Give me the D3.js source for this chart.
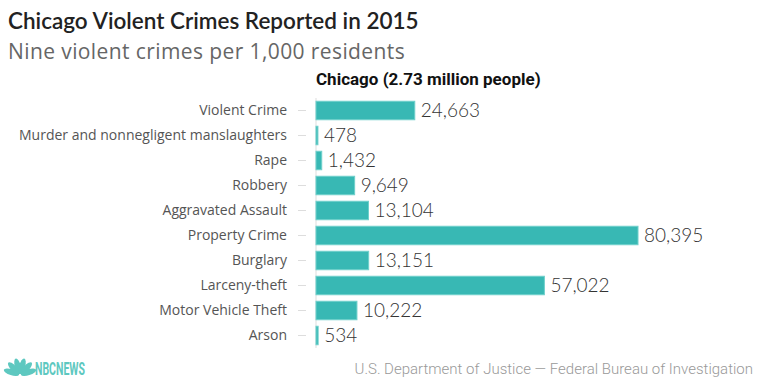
<!DOCTYPE html>
<html>
<head>
<meta charset="utf-8">
<script src="https://cdn.jsdelivr.net/npm/d3@7"></script>
<style>
  body { margin: 0; background: #fff; }
  svg { display: block; font-family: "Open Sans", Lato, sans-serif; }
</style>
</head>
<body>
<svg id="chart"></svg>
<script>
// Chart data
const categories = [
  "Violent Crime",
  "Murder and nonnegligent manslaughters",
  "Rape",
  "Robbery",
  "Aggravated Assault",
  "Property Crime",
  "Burglary",
  "Larceny-theft",
  "Motor Vehicle Theft",
  "Arson"
];
const values = [24663, 478, 1432, 9649, 13104, 80395, 13151, 57022, 10222, 534];

const width = 760;
const height = 388;
const margin = { top: 98, left: 316, bottom: 40 };

const svg = d3.select("#chart")
  .attr("width", width)
  .attr("height", height);

// Scales
const x = d3.scaleLinear()
  .domain([0, d3.max(values)])
  .range([margin.left, 638]);

const y = d3.scaleBand()
  .domain(categories)
  .range([margin.top, 348])
  .paddingInner(0.26)
  .paddingOuter(0.13);

// Titles
svg.append("text")
  .attr("x", 8).attr("y", 29)
  .attr("font-family", "Lato, sans-serif")
  .attr("font-size", 22.5).attr("font-weight", 600)
  .attr("fill", "#222")
  .text("Chicago Violent Crimes Reported in 2015");

svg.append("text")
  .attr("x", 8).attr("y", 59)
  .attr("font-size", 21).attr("font-weight", 400)
  .attr("letter-spacing", 0.4)
  .attr("fill", "#666")
  .text("Nine violent crimes per 1,000 residents");

svg.append("text")
  .attr("x", margin.left).attr("y", 85)
  .attr("font-family", "Roboto, sans-serif")
  .attr("font-size", 17).attr("font-weight", 700)
  .attr("fill", "#111")
  .text("Chicago (2.73 million people)");

// Y axis: labels with short tick dashes
const yAxis = d3.axisLeft(y).tickSize(8).tickPadding(11);
const gy = svg.append("g")
  .attr("transform", `translate(${margin.left - 10},0)`)
  .call(yAxis);
gy.select(".domain").remove();
gy.selectAll(".tick line").attr("stroke", "#ddd");
gy.selectAll(".tick text")
  .attr("font-family", "'Open Sans', sans-serif")
  .attr("font-size", 14)
  .attr("fill", "#555");

// Vertical baseline
svg.append("line")
  .attr("x1", margin.left).attr("x2", margin.left)
  .attr("y1", margin.top).attr("y2", 348)
  .attr("stroke", "#ddd");

// Bars
svg.append("g")
  .selectAll("rect")
  .data(values)
  .join("rect")
  .attr("x", x(0))
  .attr("y", (d, i) => y(categories[i]))
  .attr("width", d => x(d) - x(0))
  .attr("height", y.bandwidth())
  .attr("fill", "#38b8b4")
  .attr("stroke", "#6fd0cb")
  .attr("stroke-width", 1);

// Value labels
const fmt = d3.format(",");
svg.append("g")
  .selectAll("text")
  .data(values)
  .join("text")
  .attr("x", d => x(d) + 6)
  .attr("y", (d, i) => y(categories[i]) + y.bandwidth() / 2)
  .attr("dy", "0.36em")
  .attr("font-family", "Lato, sans-serif")
  .attr("font-size", 19).attr("font-weight", 300)
  .attr("fill", "#333")
  .text(d => fmt(d));

// Footer: peacock logo
const logo = svg.append("g").attr("transform", "translate(20,375)");
d3.range(6).forEach(i => {
  const a = -72 + i * 28.8;
  logo.append("ellipse")
    .attr("cx", 0).attr("cy", -9)
    .attr("rx", 3).attr("ry", 8)
    .attr("fill", "#5ec8c0")
    .attr("transform", `rotate(${a})`);
});
svg.append("text")
  .attr("x", 35).attr("y", 375)
  .attr("font-family", "Roboto, sans-serif")
  .attr("font-size", 18).attr("font-weight", 700)
  .attr("fill", "#5ec8c0")
  .attr("textLength", 50)
  .attr("lengthAdjust", "spacingAndGlyphs")
  .text("NBCNEWS");

svg.append("text")
  .attr("x", 753).attr("y", 374)
  .attr("text-anchor", "end")
  .attr("font-family", "Roboto, sans-serif")
  .attr("font-size", 15).attr("font-weight", 300)
  .attr("fill", "#999")
  .text("U.S. Department of Justice — Federal Bureau of Investigation");
</script>
</body>
</html>
